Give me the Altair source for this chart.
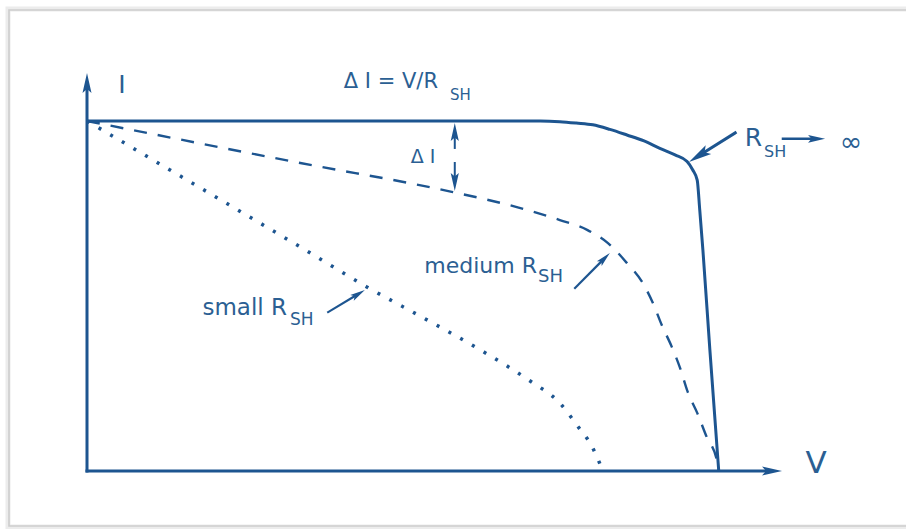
import math

import altair as alt
import pandas as pd

# ---------------------------------------------------------------------------
# Curves: current I (normalised to I_sc) against voltage V (normalised to V_oc)
# ---------------------------------------------------------------------------
# Ideal cell, R_SH -> infinity
ideal_v = [0.0, 0.716, 0.747, 0.773, 0.799, 0.826, 0.853, 0.880, 0.905, 0.929,
           0.948, 0.957, 0.964, 0.968, 0.973, 0.984, 0.998]
ideal_i = [1.0, 1.0, 0.998, 0.994, 0.989, 0.976, 0.960, 0.943, 0.922, 0.903,
           0.884, 0.860, 0.831, 0.746, 0.631, 0.346, 0.0]

# Medium shunt resistance
medium_v = [0.0, 0.337, 0.578, 0.679, 0.747, 0.790, 0.823, 0.853, 0.878, 0.894,
            0.908, 0.924, 0.937, 0.949, 0.964, 0.979, 0.995, 0.998]
medium_i = [1.0, 0.880, 0.797, 0.754, 0.717, 0.689, 0.651, 0.594, 0.537, 0.480,
            0.417, 0.354, 0.294, 0.226, 0.166, 0.097, 0.031, 0.0]

# Small shunt resistance
small_v = [0.0, 0.179, 0.337, 0.442, 0.532, 0.627, 0.700, 0.747, 0.774, 0.798, 0.815]
small_i = [1.0, 0.809, 0.640, 0.526, 0.437, 0.340, 0.257, 0.194, 0.131, 0.069, 0.0]

# Arrows (axes and annotation pointers): tail -> tip, in (V, I)
arrow_tail_v = [0.0, 0.0, 1.024, 1.0995, 0.771, 0.381, 0.581, 0.581]
arrow_tail_i = [0.0, 0.0, 0.966, 0.949, 0.523, 0.454, 0.923, 0.880]
arrow_tip_v = [0.0, 1.098, 0.951, 1.166, 0.826, 0.439, 0.581, 0.581]
arrow_tip_i = [1.137, 0.0, 0.883, 0.949, 0.623, 0.517, 0.994, 0.800]

# ---------------------------------------------------------------------------
# Styling
# ---------------------------------------------------------------------------
BLUE = "#1d5590"
TEXT_BLUE = "#2b5f93"
FONT = "DejaVu Sans"

W, H = 906, 529
PX_V, PX_I = 633, 350          # pixels per unit of V and of I
ORIGIN_X, ORIGIN_Y = 87, 471   # where V = 0, I = 0 sits in the view
V_DOMAIN = [-ORIGIN_X / PX_V, (W - ORIGIN_X) / PX_V]
I_DOMAIN = [-(H - ORIGIN_Y) / PX_I, ORIGIN_Y / PX_I]

arrow_head_len = [20, 20, 23, 17, 15, 15, 18, 18]
arrow_stroke = [3, 3, 3, 2.5, 2.2, 2.2, 2, 2]

xs = alt.Scale(domain=V_DOMAIN, nice=False, zero=False)
ys = alt.Scale(domain=I_DOMAIN, nice=False, zero=False)

# Arrowhead pointing up, tip at the symbol origin
HEAD = "M0,0L0.45,2L0,1.6L-0.45,2Z"


def curve(vs, is_, dash, width):
    df = pd.DataFrame({"V": vs, "I": is_, "k": range(len(vs))})
    props = dict(color=BLUE, strokeWidth=width, interpolate="monotone", strokeCap="butt")
    if dash:
        props["strokeDash"] = dash
    return alt.Chart(df).mark_line(**props).encode(
        x=alt.X("V:Q", scale=xs, axis=None),
        y=alt.Y("I:Q", scale=ys, axis=None),
        order="k:Q",
    )


# Arrow shafts (stopping inside the head) and heads
shafts, heads = [], []
for tv, ti, hv, hi, L, sw in zip(arrow_tail_v, arrow_tail_i, arrow_tip_v, arrow_tip_i,
                                 arrow_head_len, arrow_stroke):
    dx = (hv - tv) * PX_V
    dy = -(hi - ti) * PX_I
    n = math.hypot(dx, dy)
    ux, uy = dx / n, dy / n
    back = 0.75 * L
    shafts.append({"V": tv, "I": ti, "V2": hv - ux * back / PX_V,
                   "I2": hi + uy * back / PX_I, "sw": sw})
    heads.append({"V": hv, "I": hi, "ang": math.degrees(math.atan2(dx, -dy)) % 360,
                  "size": L * L})

shaft_layer = alt.Chart(pd.DataFrame(shafts)).mark_rule(color=BLUE, strokeCap="square").encode(
    x=alt.X("V:Q", scale=xs, axis=None),
    y=alt.Y("I:Q", scale=ys, axis=None),
    x2="V2:Q",
    y2="I2:Q",
    strokeWidth=alt.StrokeWidth("sw:Q", scale=None),
)

head_layer = alt.Chart(pd.DataFrame(heads)).mark_point(
    shape=HEAD, filled=True, color=BLUE, opacity=1, strokeWidth=0
).encode(
    x=alt.X("V:Q", scale=xs, axis=None),
    y=alt.Y("I:Q", scale=ys, axis=None),
    angle=alt.Angle("ang:Q", scale=None),
    size=alt.Size("size:Q", scale=None),
)


def label(v, i, txt, size, align="left", baseline="alphabetic"):
    return alt.Chart(pd.DataFrame({"V": [v], "I": [i], "t": [txt]})).mark_text(
        font=FONT, fontSize=size, color=TEXT_BLUE, align=align, baseline=baseline
    ).encode(
        x=alt.X("V:Q", scale=xs, axis=None),
        y=alt.Y("I:Q", scale=ys, axis=None),
        text="t:N",
    )


labels = [
    label(0.0553, 1.080, "I", 25, "center"),
    label(1.1517, -0.0057, "V", 31, "center"),
    label(0.5545, 1.0943, "Δ I = V/R", 21, "right"),
    label(0.5735, 1.060, "SH", 15),
    label(0.5308, 0.880, "Δ I", 19, "center"),
    label(1.0664, 0.9286, "R", 25, "right"),
    label(1.0695, 0.8971, "SH", 16),
    label(1.2070, 0.914, "∞", 27, "center"),
    label(0.7109, 0.5657, "medium R", 22, "right"),
    label(0.7125, 0.540, "SH", 18),
    label(0.3160, 0.4457, "small R", 23, "right"),
    label(0.3207, 0.4171, "SH", 17),
]

# Light grey frame with a soft outer edge
frame_outer = alt.Chart(pd.DataFrame({"a": [0]})).mark_rect(
    fillOpacity=0, stroke="#ececec", strokeWidth=5
).encode(x=alt.value(8), x2=alt.value(940), y=alt.value(9), y2=alt.value(527))
frame_inner = alt.Chart(pd.DataFrame({"a": [0]})).mark_rect(
    fillOpacity=0, stroke="#cdcdcd", strokeWidth=1.6
).encode(x=alt.value(9), x2=alt.value(940), y=alt.value(10), y2=alt.value(526))

chart = alt.layer(
    frame_outer,
    frame_inner,
    curve(small_v, small_i, [3, 10.5], 3.5),
    curve(medium_v, medium_i, [13, 11], 2.4),
    curve(ideal_v, ideal_i, None, 3),
    shaft_layer,
    head_layer,
    *labels,
).properties(
    width=W, height=H, autosize="none", padding=0, background="white"
).configure_view(stroke="transparent")

chart.save("out.html", embed_options={"renderer": "svg", "actions": False})
